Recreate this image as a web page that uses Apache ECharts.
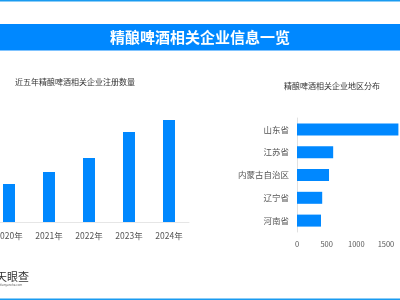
<!doctype html>
<html lang="zh">
<head>
	<meta charset="utf-8">
	<title>精酿啤酒相关企业信息一览</title>
	<script src="https://cdn.jsdelivr.net/npm/echarts@6/dist/echarts.min.js"></script>
	<style>
		html, body { margin: 0; padding: 0; background: #fff; }
		#chart { width: 400px; height: 300px; }
	</style>
</head>
<body>
	<div id="chart"></div>
	<script>
		// 近五年注册数量
		var years = ['2020年', '2021年', '2022年', '2023年', '2024年'];
		var yearCounts = [380, 500, 640, 900, 1020];

		// 地区分布 (从下往上)
		var regions = ['河南省', '辽宁省', '内蒙古自治区', '江苏省', '山东省'];
		var regionCounts = [405, 425, 540, 610, 1710];

		var font = '"Noto Sans CJK SC", "Noto Sans", sans-serif';
		var blue = '#0088ff';

		var option = {
			animation: false,
			textStyle: { fontFamily: font },
			graphic: [
				{ type: 'rect', shape: { x: 0, y: 0, width: 400, height: 1.5 }, style: { fill: '#1a9bf0' } },
				{ type: 'rect', shape: { x: 0, y: 24, width: 400, height: 26.5 }, style: { fill: blue } },
				{
					type: 'text', x: 200, y: 37.5,
					style: { text: '精酿啤酒相关企业信息一览', fill: '#fff', font: 'bold 15px ' + font, textAlign: 'center', textVerticalAlign: 'middle' }
				},
				{
					type: 'text', x: 15, y: 82,
					style: { text: '近五年精酿啤酒相关企业注册数量', fill: '#333', font: '8px ' + font, textVerticalAlign: 'middle' }
				},
				{
					type: 'text', x: 332, y: 86,
					style: { text: '精酿啤酒相关企业地区分布', fill: '#333', font: '8px ' + font, textAlign: 'center', textVerticalAlign: 'middle' }
				},
				{
					type: 'text', x: -4, y: 277,
					style: { text: '天眼查', fill: '#333', font: '11px ' + font, textVerticalAlign: 'middle' }
				},
				{
					type: 'text', x: 0, y: 285,
					style: { text: 'tianyancha.com', fill: '#666', font: '3px ' + font, textVerticalAlign: 'middle' }
				},
				{ type: 'rect', shape: { x: 0, y: 298.5, width: 400, height: 1.5 }, style: { fill: '#1a9bf0' } }
			],
			grid: [
				{ left: -11, width: 200, top: 120, height: 102, outerBoundsMode: 'none', containLabel: false },
				{ left: 297, width: 118.6, top: 118, height: 114, outerBoundsMode: 'none', containLabel: false }
			],
			xAxis: [
				{
					gridIndex: 0, type: 'category', data: years,
					axisLine: { lineStyle: { color: '#e6e6e6' } },
					axisTick: { show: false },
					axisLabel: { color: '#555', fontSize: 8.5, margin: 10 }
				},
				{
					gridIndex: 1, type: 'value', min: 0, max: 2000, interval: 500,
					axisLine: { show: false }, axisTick: { show: false },
					splitLine: { show: false },
					axisLabel: {
						color: '#555', fontSize: 7.5, margin: 8,
						formatter: function (v) { return String(v); }
					}
				}
			],
			yAxis: [
				{ gridIndex: 0, type: 'value', min: 0, max: 1020, show: false },
				{
					gridIndex: 1, type: 'category', data: regions,
					axisLine: { lineStyle: { color: '#e0e0e0' } },
					axisTick: { show: false },
					axisLabel: { color: '#555', fontSize: 8.5, margin: 8 }
				}
			],
			series: [
				{
					type: 'bar', xAxisIndex: 0, yAxisIndex: 0, data: yearCounts,
					barWidth: 12, itemStyle: { color: blue }
				},
				{
					type: 'bar', xAxisIndex: 1, yAxisIndex: 1, data: regionCounts,
					barWidth: 12, itemStyle: { color: blue }
				}
			]
		};

		var chart = echarts.init(document.getElementById('chart'));
		chart.setOption(option);
	</script>
</body>
</html>
